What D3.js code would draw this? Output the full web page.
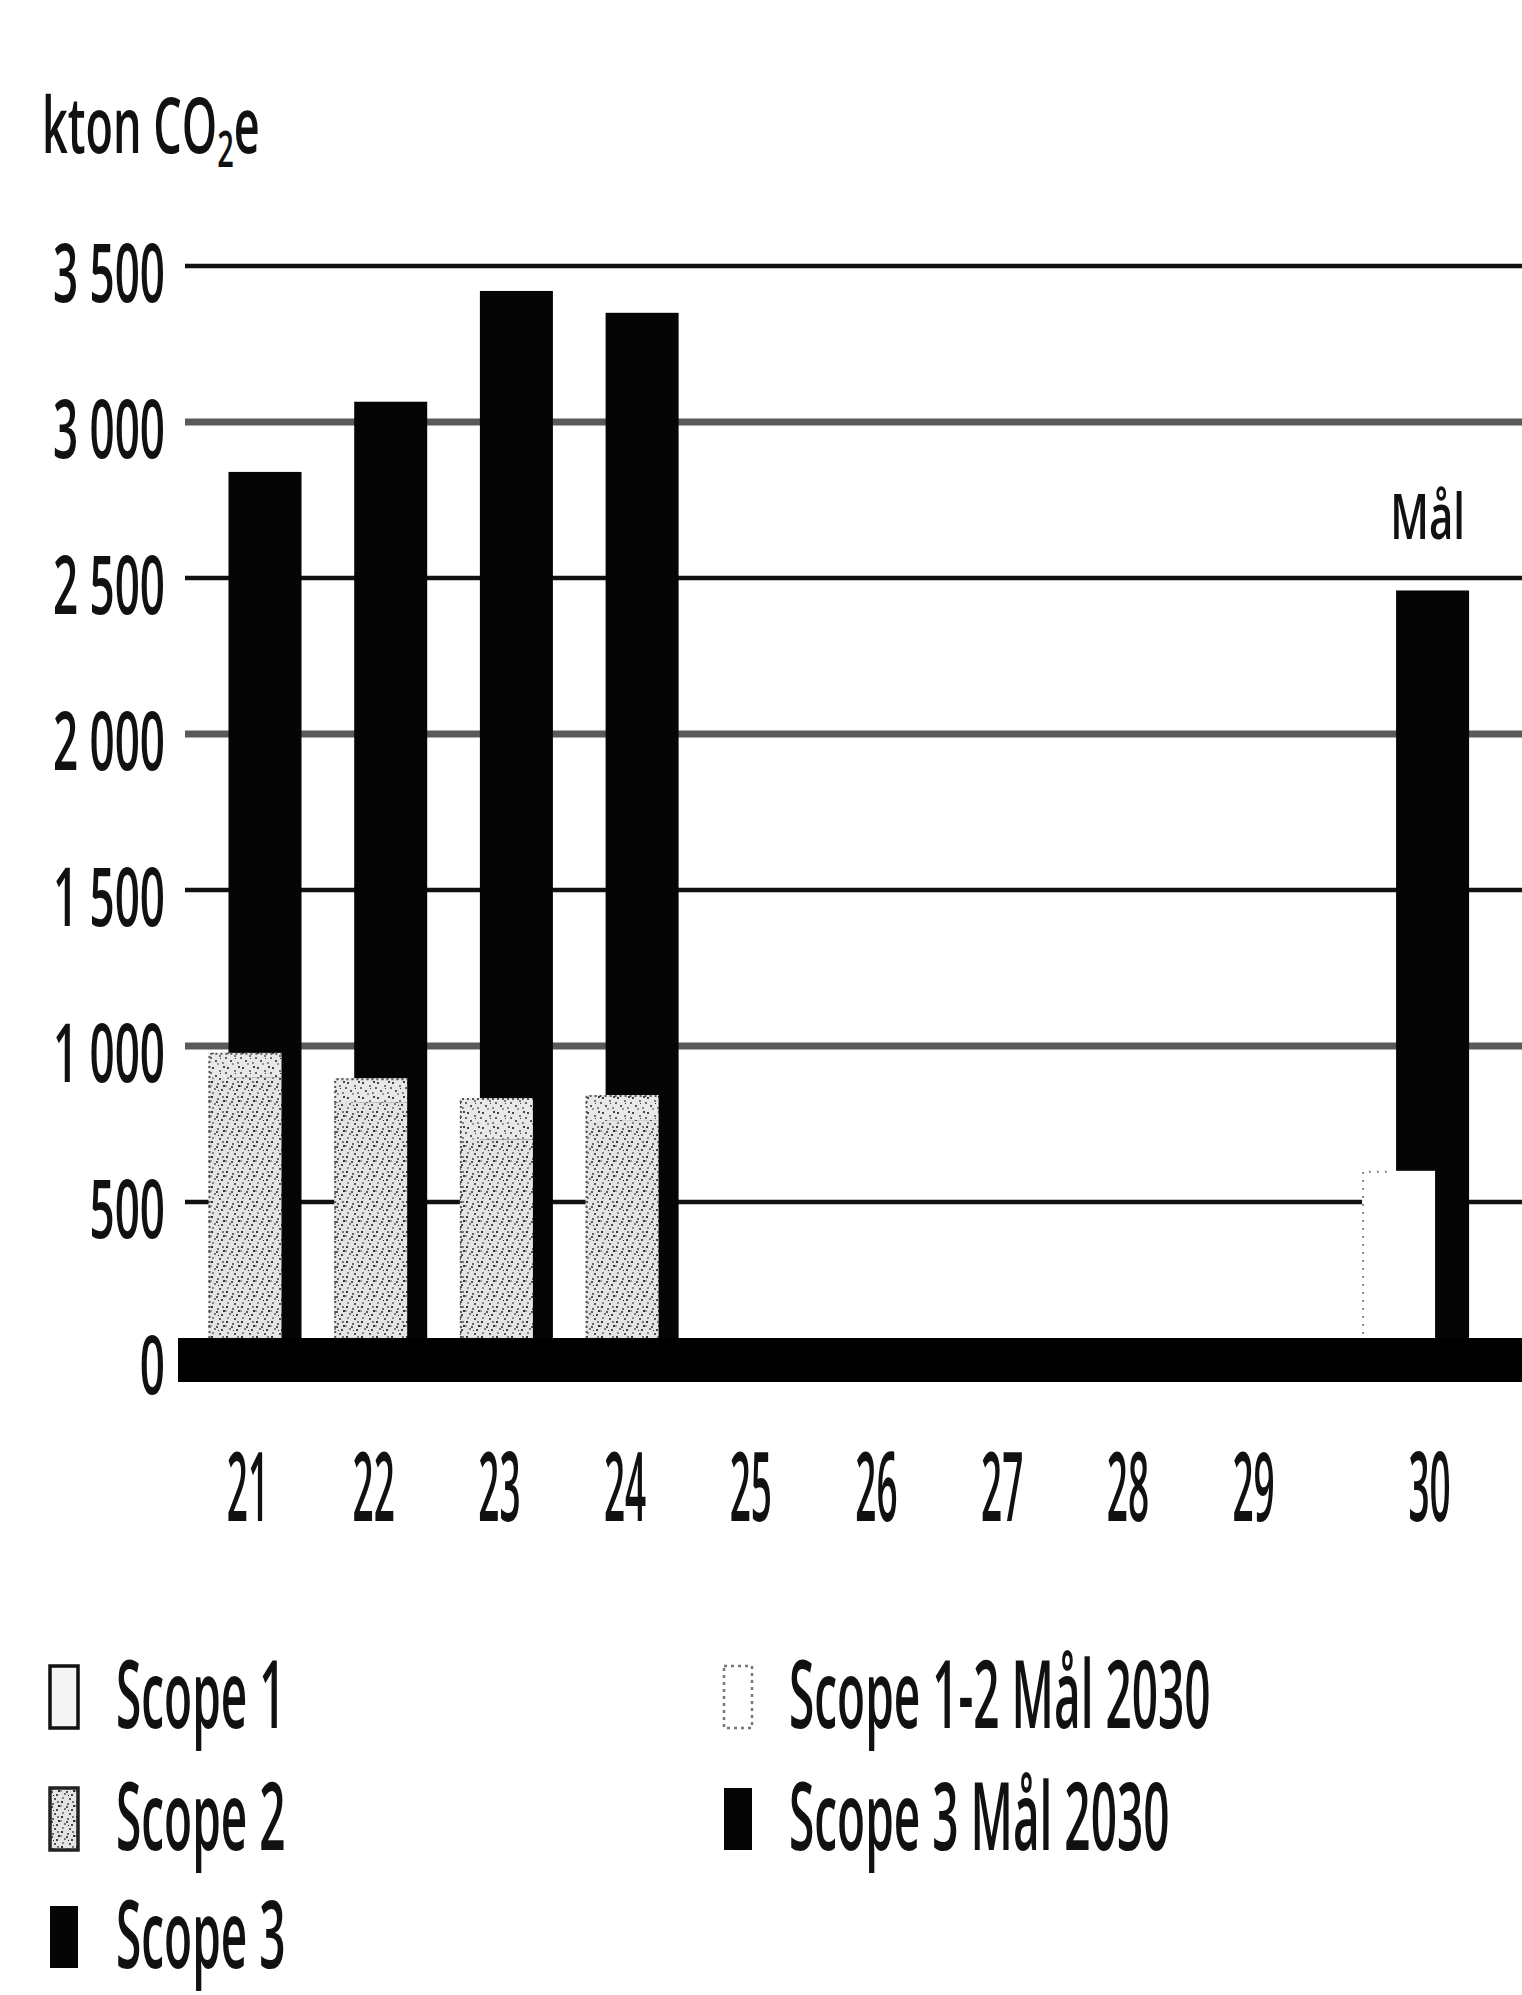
<!DOCTYPE html>
<html><head><meta charset="utf-8">
<script src="https://cdn.jsdelivr.net/npm/d3@7"></script>
<style>
html,body{margin:0;padding:0;background:#fff;}
text{font-family:"Open Sans","Liberation Sans",sans-serif;fill:#111;font-weight:600;}
</style></head>
<body>
<script>
// ---- data ----
const years = ["21","22","23","24","25","26","27","28","29"];
const scope1 = [900, 820, 700, 760];
const scope2 = [78, 77, 133, 83];
const scope3 = [2840, 3065, 3420, 3350];
const targetYear = "30";
const targetScope12 = 600;
const targetScope3 = 2460;
const targetLabel = "Mål";
const yTicks = [0, 500, 1000, 1500, 2000, 2500, 3000, 3500];
const yTitleMain = "kton CO";
const yTitleSub = "2";
const yTitleEnd = "e";
const legendLeft = ["Scope 1", "Scope 2", "Scope 3"];
const legendRight = ["Scope 1-2 Mål 2030", "Scope 3 Mål 2030"];

// ---- layout ----
const W = 1522, H = 1995;
const svg = d3.select("body").append("svg").attr("width", W).attr("height", H);

const defs = svg.append("defs");
function speckle(id, bg, dots) {
  const p = defs.append("pattern").attr("id", id).attr("patternUnits", "userSpaceOnUse")
    .attr("width", 15).attr("height", 15);
  p.append("rect").attr("width", 15).attr("height", 15).attr("fill", bg);
  dots.forEach(d => p.append("rect").attr("x", d[0]).attr("y", d[1]).attr("width", d[2]).attr("height", d[2]).attr("fill", d[3]));
}
speckle("s1", "#e4e4e4", [[1,1,2,"#333"],[7,3,2,"#666"],[11,9,2,"#444"],[4,8,2,"#777"],[9,13,2,"#555"],[13,5,2,"#333"],[2,12,2,"#888"],[6,6,2,"#555"],[12,1,2,"#777"],[0,5,2,"#999"],[8,10,1,"#222"]]);
speckle("s2", "#e8e8e8", [[2,2,2,"#444"],[9,5,2,"#777"],[5,10,2,"#555"],[12,12,2,"#888"],[13,1,2,"#444"],[0,7,2,"#666"],[7,13,2,"#999"],[10,8,1,"#333"]]);

const y = d3.scaleLinear().domain([0, 3500]).range([1358, 266]);
const slot = d3.scaleLinear().domain([0, 1]).range([248, 373.7]);
const targetSlot = years.length + 0.4;
const bw = 73;

const fmt = d3.formatLocale({decimal: ",", thousands: " ", grouping: [3], currency: ["", ""]}).format(",");

// gridlines
const gridLeft = 185;
svg.append("g").selectAll("line").data(yTicks.filter(d => d > 0)).join("line")
  .attr("x1", gridLeft).attr("x2", W)
  .attr("y1", d => y(d)).attr("y2", d => y(d))
  .attr("stroke", d => d % 1000 === 0 ? "#5a5a5a" : "#111")
  .attr("stroke-width", d => d % 1000 === 0 ? 7 : 4.5);

function stext(g, x, yy, str, fs, sy, anchor) {
  return g.append("text")
    .attr("transform", `translate(${x},${yy}) scale(1,${sy})`)
    .attr("text-anchor", anchor || "start")
    .style("font-size", fs + "px")
    .text(str);
}

// bars
const bars = svg.append("g");
const actual = scope3.map((v, i) => ({i, s1: scope1[i], s2: scope2[i], s3: v}));
// scope 3 (behind)
bars.selectAll("rect.s3").data(actual).join("rect").attr("class", "s3")
  .attr("x", d => slot(d.i) + 17 - bw / 2).attr("width", bw)
  .attr("y", d => y(d.s3)).attr("height", d => y(0) - y(d.s3))
  .attr("fill", "#050505");
// scope 1
bars.selectAll("rect.s1").data(actual).join("rect").attr("class", "s1")
  .attr("x", d => slot(d.i) - 3 - bw / 2).attr("width", bw)
  .attr("y", d => y(d.s1)).attr("height", d => y(0) - y(d.s1))
  .attr("fill", "url(#s1)");
// scope 2 on top of scope 1
bars.selectAll("rect.s2").data(actual).join("rect").attr("class", "s2")
  .attr("x", d => slot(d.i) - 3 - bw / 2).attr("width", bw)
  .attr("y", d => y(d.s1 + d.s2)).attr("height", d => y(d.s1) - y(d.s1 + d.s2))
  .attr("fill", "url(#s2)");
bars.selectAll("path.edge").data(actual).join("path").attr("class", "edge")
  .attr("d", d => `M${slot(d.i) - 3 - bw / 2 + 1},${y(0)}V${y(d.s1 + d.s2) + 1}H${slot(d.i) - 3 + bw / 2}`)
  .attr("fill", "none").attr("stroke", "#555").attr("stroke-width", 2).attr("stroke-dasharray", "2,3");

// target 2030
const tx = slot(targetSlot);
bars.append("rect").attr("x", tx + 3 - bw / 2).attr("width", bw)
  .attr("y", y(targetScope3)).attr("height", y(0) - y(targetScope3)).attr("fill", "#050505");
bars.append("rect").attr("x", tx - 31 - bw / 2).attr("width", bw)
  .attr("y", y(targetScope12)).attr("height", y(0) - y(targetScope12)).attr("fill", "#fff");
bars.append("path")
  .attr("d", `M${tx - 31 - bw / 2 + 1},${y(0)}V${y(targetScope12) + 1}H${tx - 31 - bw / 2 + 30}`)
  .attr("fill", "none").attr("stroke", "#888").attr("stroke-width", 2).attr("stroke-dasharray", "2,6");

// baseline band
svg.append("line").attr("x1", 178).attr("x2", W).attr("y1", y(0) + 2).attr("y2", y(0) + 2)
  .attr("stroke", "#000").attr("stroke-width", 44);

// y tick labels
const tl = svg.append("g");
yTicks.forEach(t => stext(tl, 165, y(t) + 6 + 59 / 2, fmt(t), 44, 1.85, "end"));

// x labels
const xl = svg.append("g");
years.forEach((yr, i) => stext(xl, slot(i), 1521, yr, 37, 2.6, "middle"));
stext(xl, slot(targetSlot), 1521, targetYear, 37, 2.6, "middle");

// Mål label
stext(svg, slot(targetSlot) - 2, 539, targetLabel, 42, 1.5, "middle");

// y title
const tt = svg.append("text").attr("transform", `translate(42,153) scale(1,1.72)`).style("font-size", "45px");
tt.append("tspan").text(yTitleMain);
tt.append("tspan").attr("dy", 8).style("font-size", "29px").text(yTitleSub);
tt.append("tspan").attr("dy", -8).text(yTitleEnd);

// legend
const lg = svg.append("g");
const rowBase = [1728, 1850, 1968];
const swH = 62, swW = 28;
const leftFills = [
  {fill: "#f4f4f4", stroke: "#111", sw: 3.5},
  {fill: "url(#s1)", stroke: "#222", sw: 3.5},
  {fill: "#050505", stroke: "none", sw: 0}
];
const rightFills = [
  {fill: "#fff", stroke: "#777", sw: 2.5, dash: "3,4"},
  {fill: "#050505", stroke: "none", sw: 0}
];
legendLeft.forEach((lab, i) => {
  const f = leftFills[i];
  lg.append("rect").attr("x", 50).attr("y", rowBase[i] - swH).attr("width", swW).attr("height", swH)
    .attr("fill", f.fill).attr("stroke", f.stroke).attr("stroke-width", f.sw);
  stext(lg, 116, rowBase[i], lab, 46, 2.06, "start");
});
legendRight.forEach((lab, i) => {
  const f = rightFills[i];
  lg.append("rect").attr("x", 724).attr("y", rowBase[i] - swH).attr("width", swW).attr("height", swH)
    .attr("fill", f.fill).attr("stroke", f.stroke).attr("stroke-width", f.sw)
    .attr("stroke-dasharray", f.dash || null);
  stext(lg, 789, rowBase[i], lab, 46, 2.06, "start");
});
</script>
</body></html>
